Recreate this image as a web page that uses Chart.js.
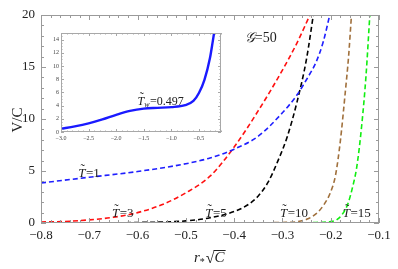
<!DOCTYPE html>
<html>
<head>
<meta charset="utf-8">
<script src="https://cdn.jsdelivr.net/npm/chart.js@4/dist/chart.umd.min.js"></script>
<style>
  html, body { margin: 0; padding: 0; background: #fff; }
  #wrap { position: relative; width: 398px; height: 269px; }
  #main { position: absolute; left: 0; top: 0; }
  #inset { position: absolute; left: 40px; top: 25px; }
</style>
</head>
<body>
<div id="wrap">
  <canvas id="main" width="398" height="269"></canvas>
  <canvas id="inset" width="190" height="125"></canvas>
</div>
<script>
// ---- main panel data ----
const xTicks = [-0.8, -0.7, -0.6, -0.5, -0.4, -0.3, -0.2, -0.1];
const yTicks = [0, 5, 10, 15, 20];

const t1X = [-0.8, -0.7, -0.6, -0.5, -0.45, -0.4, -0.35, -0.3, -0.27, -0.25, -0.23, -0.215, -0.202];
const t1Y = [3.85, 4.4, 4.95, 5.7, 6.25, 7.1, 8.35, 10.6, 12.3, 13.8, 15.5, 17.5, 20];

const t3X = [-0.8, -0.75, -0.7, -0.65, -0.6, -0.55, -0.5, -0.45, -0.4, -0.35, -0.3, -0.27, -0.243];
const t3Y = [0.1, 0.15, 0.3, 0.55, 1.0, 1.75, 2.9, 4.5, 7.3, 10.8, 14.7, 17.3, 20];

const t5X = [-0.69, -0.6, -0.5, -0.45, -0.4, -0.37, -0.35, -0.33, -0.31, -0.29, -0.27, -0.25, -0.236];
const t5Y = [0, 0.05, 0.2, 0.5, 1.1, 1.8, 2.6, 3.9, 5.9, 8.3, 11.6, 15.8, 20];

const t10X = [-0.4, -0.35, -0.3, -0.27, -0.25, -0.23, -0.215, -0.2, -0.19, -0.18, -0.17, -0.163, -0.157];
const t10Y = [0, 0.02, 0.05, 0.12, 0.35, 0.9, 1.7, 3.0, 4.6, 7.9, 12.5, 16, 20];

const t15X = [-0.27, -0.23, -0.2, -0.188, -0.175, -0.164, -0.155, -0.146, -0.136, -0.127, -0.119];
const t15Y = [0, 0.05, 0.15, 0.3, 0.9, 1.9, 3.4, 5.4, 9.3, 14.1, 20];

const curveNames = ['1', '3', '5', '10', '15'];
const nameX = [-0.723, -0.653, -0.46, -0.305, -0.175];
const nameY = [4.42, 0.58, 0.58, 0.58, 0.58];

// ---- inset data ----
const insetXTicks = [-3.0, -2.5, -2.0, -1.5, -1.0, -0.5];
const insetYTicks = [0, 2, 4, 6, 8, 10, 12, 14];
const twX = [-3.0, -2.75, -2.5, -2.25, -2.0, -1.75, -1.5, -1.25, -1.0, -0.75, -0.6, -0.5, -0.4, -0.3, -0.25, -0.22];
const twY = [0.5, 0.85, 1.3, 1.9, 2.6, 3.2, 3.55, 3.66, 3.77, 4.07, 4.7, 5.9, 7.9, 11.2, 13.7, 15.3];

const SERIF = "'Liberation Serif', 'DejaVu Serif', serif";
const pts = (xs, ys) => xs.map((x, i) => ({ x, y: ys[i] }));
const fmt = v => (v < 0 ? '\u2212' : '') + Math.abs(v).toFixed(1);

// italic T with a tilde on top, returns the x after the T
function tildeT(ctx, px, py, size) {
    ctx.font = 'italic ' + size + 'px ' + SERIF;
    const tw = ctx.measureText('T').width;
    ctx.fillText('T', px, py);
    ctx.save();
    ctx.textAlign = 'center';
    ctx.font = size + 'px ' + SERIF;
    ctx.fillText('\u02DC', px + tw * 0.62, py - size * 0.3);
    ctx.restore();
    return px + tw;
}

// frame with inward ticks on all four sides (Mathematica style)
const framePlugin = {
    id: 'frame',
    afterDatasetsDraw(chart, args, o) {
        const { ctx, chartArea: { left, right, top, bottom }, scales: { x, y } } = chart;
        ctx.save();
        ctx.strokeStyle = o.color;
        ctx.lineWidth = 1;
        ctx.strokeRect(left + 0.5, top + 0.5, right - left - 1, bottom - top - 1);

        const steps = (min, max, step) => {
            const out = [];
            const n = Math.round((max - min) / step);
            for (let i = 0; i <= n; i++) out.push(min + i * step);
            return out;
        };
        ctx.beginPath();
        steps(o.xStart, x.max, o.xMinor).forEach(v => {
            const px = Math.round(x.getPixelForValue(v)) + 0.5;
            const major = o.xMajor.some(m => Math.abs(m - v) < 1e-6);
            const len = major ? o.major : o.minor;
            ctx.moveTo(px, bottom); ctx.lineTo(px, bottom - len);
            ctx.moveTo(px, top); ctx.lineTo(px, top + len);
        });
        steps(y.min, y.max, o.yMinor).forEach(v => {
            const py = Math.round(y.getPixelForValue(v)) + 0.5;
            const major = o.yMajor.some(m => Math.abs(m - v) < 1e-6);
            const len = major ? o.major : o.minor;
            ctx.moveTo(left, py); ctx.lineTo(left + len, py);
            ctx.moveTo(right, py); ctx.lineTo(right - len, py);
        });
        ctx.stroke();
        ctx.restore();
    }
};

// axis titles and curve annotations for the main panel
const mainText = {
    id: 'mainText',
    afterDraw(chart) {
        const { ctx, scales: { x, y } } = chart;
        ctx.save();
        ctx.fillStyle = '#222';
        ctx.textBaseline = 'alphabetic';

        // y title
        ctx.save();
        ctx.translate(22, 120);
        ctx.rotate(-Math.PI / 2);
        ctx.textAlign = 'center';
        ctx.font = '15px ' + SERIF;
        ctx.fillText('V/C', 0, 0);
        ctx.restore();

        // x title: r* sqrt(C)
        ctx.textAlign = 'left';
        let cx = 194, base = 262;
        ctx.font = 'italic 15px ' + SERIF;
        ctx.fillText('r', cx, base);
        cx += ctx.measureText('r').width;
        ctx.font = '10px ' + SERIF;
        ctx.fillText('*', cx, base + 3);
        cx += ctx.measureText('*').width + 1;
        ctx.font = '16px ' + SERIF;
        ctx.fillText('\u221A', cx, base + 1);
        cx += ctx.measureText('\u221A').width;
        ctx.font = 'italic 15px ' + SERIF;
        const cw = ctx.measureText('C').width;
        ctx.fillText('C', cx, base);
        ctx.fillRect(cx - 1, base - 12, cw + 2, 1);

        // curve labels
        curveNames.forEach((n, i) => {
            let px = x.getPixelForValue(nameX[i]);
            const py = y.getPixelForValue(nameY[i]);
            px = tildeT(ctx, px, py, 13) + 0.5;
            ctx.font = '13px ' + SERIF;
            ctx.fillText('=' + n, px, py);
        });

        // G = 50
        ctx.font = 'italic 14px ' + SERIF;
        let gx = x.getPixelForValue(-0.378);
        const gy = y.getPixelForValue(17.4);
        ctx.fillText('\uD835\uDCA2', gx, gy);
        gx += ctx.measureText('\uD835\uDCA2').width;
        ctx.font = '14px ' + SERIF;
        ctx.fillText('=50', gx, gy);
        ctx.restore();
    }
};

const dashed = (label, xs, ys, color) => ({
    label,
    data: pts(xs, ys),
    borderColor: color,
    borderWidth: 1.6,
    borderDash: [5, 3],
    cubicInterpolationMode: 'monotone',
    pointRadius: 0,
    fill: false
});

new Chart(document.getElementById('main').getContext('2d'), {
    type: 'line',
    data: {
        datasets: [
            dashed('T=1', t1X, t1Y, '#1f1fff'),
            dashed('T=3', t3X, t3Y, '#ff1010'),
            dashed('T=5', t5X, t5Y, '#000000'),
            dashed('T=10', t10X, t10Y, '#a0703c'),
            dashed('T=15', t15X, t15Y, '#10ee10')
        ]
    },
    options: {
        responsive: false,
        animation: false,
        events: [],
        layout: { padding: { left: 0, top: 15, right: 19, bottom: 0 } },
        plugins: {
            legend: { display: false },
            tooltip: { enabled: false },
            frame: {
                color: '#9a9a9a', major: 5, minor: 3,
                xStart: -0.8, xMajor: xTicks, xMinor: 0.02,
                yMajor: yTicks, yMinor: 1
            }
        },
        scales: {
            x: {
                type: 'linear', min: -0.8, max: -0.1,
                afterBuildTicks: s => { s.ticks = xTicks.map(v => ({ value: v })); },
                afterFit: s => { s.height = 46; },
                grid: { display: false, drawTicks: false },
                border: { display: false },
                ticks: { callback: v => fmt(v), color: '#222', padding: 5, maxRotation: 0, autoSkip: false,
                         font: { family: SERIF, size: 13 } }
            },
            y: {
                type: 'linear', min: 0, max: 20,
                afterBuildTicks: s => { s.ticks = yTicks.map(v => ({ value: v })); },
                afterFit: s => { s.width = 41; },
                grid: { display: false, drawTicks: false },
                border: { display: false },
                ticks: { callback: v => String(v), color: '#222', padding: 6,
                         font: { family: SERIF, size: 13 } }
            }
        }
    },
    plugins: [framePlugin, mainText]
});

// ---- inset ----
const insetText = {
    id: 'insetText',
    afterDraw(chart) {
        const { ctx, scales: { x, y } } = chart;
        ctx.save();
        ctx.fillStyle = '#222';
        let px = x.getPixelForValue(-1.613);
        const py = y.getPixelForValue(4.1);
        px = tildeT(ctx, px, py, 12);
        ctx.font = 'italic 8px ' + SERIF;
        ctx.fillText('w', px, py + 2);
        px += ctx.measureText('w').width + 0.5;
        ctx.font = '12px ' + SERIF;
        ctx.fillText('=0.497', px, py);
        ctx.restore();
    }
};

new Chart(document.getElementById('inset').getContext('2d'), {
    type: 'line',
    data: {
        datasets: [{
            label: 'Tw=0.497',
            data: pts(twX, twY),
            borderColor: '#1a1aff',
            borderWidth: 2.4,
            cubicInterpolationMode: 'monotone',
            pointRadius: 0,
            fill: false
        }]
    },
    options: {
        responsive: false,
        animation: false,
        events: [],
        layout: { padding: { left: 0, top: 8, right: 9, bottom: 0 } },
        plugins: {
            legend: { display: false },
            tooltip: { enabled: false },
            frame: {
                color: '#a8a8a8', major: 3, minor: 1.5,
                xStart: -3.0, xMajor: insetXTicks, xMinor: 0.1,
                yMajor: insetYTicks, yMinor: 0.5
            }
        },
        scales: {
            x: {
                type: 'linear', min: -3.0, max: -0.1,
                afterBuildTicks: s => { s.ticks = insetXTicks.map(v => ({ value: v })); },
                afterFit: s => { s.height = 18; },
                grid: { display: false, drawTicks: false },
                border: { display: false },
                ticks: { callback: v => fmt(v), color: '#444', padding: 3, maxRotation: 0, autoSkip: false,
                         font: { family: SERIF, size: 6 } }
            },
            y: {
                type: 'linear', min: 0, max: 15,
                afterBuildTicks: s => { s.ticks = insetYTicks.map(v => ({ value: v })); },
                afterFit: s => { s.width = 21; },
                grid: { display: false, drawTicks: false },
                border: { display: false },
                ticks: { callback: v => String(v), color: '#444', padding: 2, autoSkip: false,
                         font: { family: SERIF, size: 6 } }
            }
        }
    },
    plugins: [framePlugin, insetText]
});
</script>
</body>
</html>
